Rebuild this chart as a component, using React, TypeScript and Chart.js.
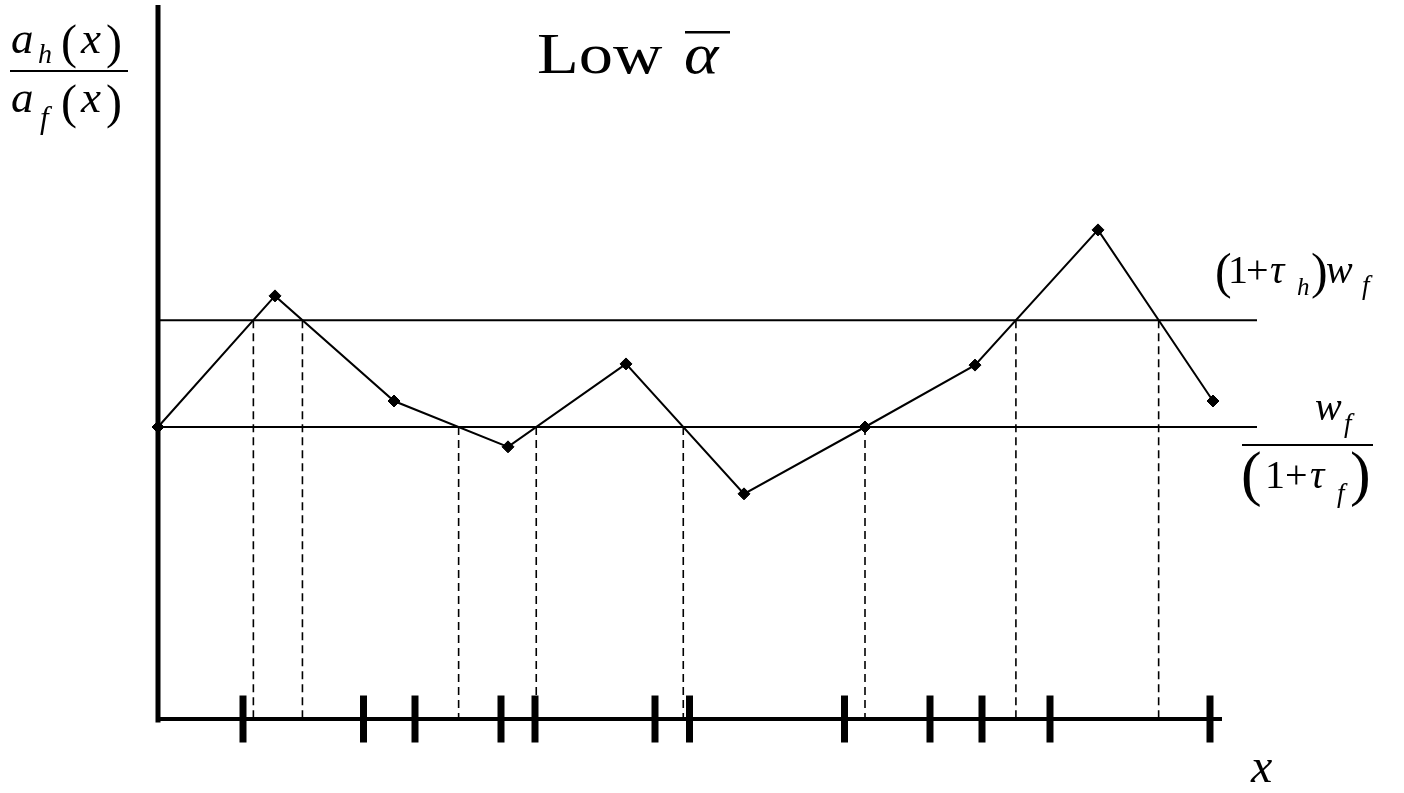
import React, { useEffect, useRef } from "react";
import { Chart, registerables } from "chart.js";

Chart.register(...registerables);

// ---- data (x in axis units from the origin, y in units of the lower threshold) ----
const seriesX = [0, 1.17, 2.36, 3.5, 4.68, 5.86, 7.07, 8.17, 9.4, 10.55];
const seriesY = [1.0, 1.449, 1.089, 0.932, 1.216, 0.771, 1.0, 1.212, 1.675, 1.089];
const upperThreshold = 1.366; // (1+tau_h) w_f
const lowerThreshold = 1.0; // w_f / (1+tau_f)
const thresholdEndX = 10.99;
const tickX = [0.85, 2.055, 2.57, 3.43, 3.77, 4.97, 5.315, 6.865, 7.72, 8.24, 8.92, 10.52];
const xAxisEnd = 10.64;
const yAxisTop = 2.445;

const SERIF = "'Liberation Serif', 'Times New Roman', serif";

// crossings of the polyline with a threshold
function crossings(th: number): number[] {
  const out: number[] = [];
  for (let i = 0; i < seriesX.length - 1; i++) {
    const y0 = seriesY[i];
    const y1 = seriesY[i + 1];
    if ((y0 < th) !== (y1 < th)) {
      const t = (th - y0) / (y1 - y0);
      out.push(seriesX[i] + t * (seriesX[i + 1] - seriesX[i]));
    }
  }
  return out;
}

type G = { t: string; x: number; y: number; s: number; i?: boolean; sx?: number };
const glyphs: G[] = [
  // y-axis label: a_h(x) / a_f(x)
  { t: "a", x: 11, y: 53, s: 45, i: true },
  { t: "h", x: 38, y: 63, s: 28, i: true },
  { t: "(", x: 61, y: 58, s: 48 },
  { t: "x", x: 81, y: 53, s: 45, i: true },
  { t: ")", x: 106, y: 58, s: 48 },
  { t: "a", x: 11, y: 112, s: 45, i: true },
  { t: "f", x: 40, y: 128, s: 31, i: true },
  { t: "(", x: 61, y: 118, s: 48 },
  { t: "x", x: 81, y: 112, s: 45, i: true },
  { t: ")", x: 106, y: 118, s: 48 },
  // title
  { t: "Low", x: 537, y: 73, s: 57, sx: 1.2 },
  { t: "\u03B1", x: 684, y: 73, s: 57, i: true, sx: 1.15 },
  // (1+tau_h) w_f
  { t: "(", x: 1215, y: 288, s: 50 },
  { t: "1", x: 1228, y: 283, s: 40 },
  { t: "+", x: 1246, y: 283, s: 40 },
  { t: "\u03C4", x: 1270, y: 283, s: 40, i: true },
  { t: "h", x: 1297, y: 295, s: 25, i: true },
  { t: ")", x: 1311, y: 288, s: 50 },
  { t: "w", x: 1326, y: 283, s: 40, i: true },
  { t: "f", x: 1362, y: 294, s: 27, i: true },
  // w_f / (1+tau_f)
  { t: "w", x: 1315, y: 420, s: 40, i: true },
  { t: "f", x: 1344, y: 432, s: 27, i: true },
  { t: "(", x: 1241, y: 494, s: 62 },
  { t: "1", x: 1265, y: 488, s: 40 },
  { t: "+", x: 1285, y: 488, s: 40 },
  { t: "\u03C4", x: 1310, y: 488, s: 40, i: true },
  { t: "f", x: 1337, y: 502, s: 27, i: true },
  { t: ")", x: 1350, y: 494, s: 62 },
  // x-axis label
  { t: "x", x: 1251, y: 782, s: 48, i: true },
];
const bars = [
  { x: 10, y: 70, w: 118, h: 2 },
  { x: 685, y: 31, w: 45, h: 2.5 },
  { x: 1242, y: 444, w: 131, h: 2 },
];

const textPlugin = {
  id: "mathText",
  afterDraw(chart: any) {
    const ctx = chart.ctx as CanvasRenderingContext2D;
    ctx.save();
    ctx.fillStyle = "#000";
    ctx.textAlign = "left";
    ctx.textBaseline = "alphabetic";
    for (const g of glyphs) {
      ctx.font = `${g.i ? "italic " : ""}${g.s}px ${SERIF}`;
      if (g.sx) {
        ctx.save();
        ctx.translate(g.x, g.y);
        ctx.scale(g.sx, 1);
        ctx.fillText(g.t, 0, 0);
        ctx.restore();
      } else {
        ctx.fillText(g.t, g.x, g.y);
      }
    }
    for (const b of bars) ctx.fillRect(b.x, b.y, b.w, b.h);
    ctx.restore();
  },
};

export default function App() {
  const ref = useRef<HTMLCanvasElement | null>(null);
  useEffect(() => {
    if (!ref.current) return;
    const black = "#000";
    const drops = [...crossings(upperThreshold).map((x) => ({ x, th: upperThreshold })), ...crossings(lowerThreshold).map((x) => ({ x, th: lowerThreshold }))];
    const datasets: any[] = [
      {
        data: seriesX.map((x, i) => ({ x, y: seriesY[i] })),
        showLine: true,
        borderColor: black,
        backgroundColor: black,
        borderWidth: 2,
        pointStyle: "rectRot",
        pointRadius: 6,
        pointBorderWidth: 1,
        tension: 0,
        clip: false,
      },
      {
        data: [{ x: 0, y: upperThreshold }, { x: thresholdEndX, y: upperThreshold }],
        showLine: true, borderColor: black, borderWidth: 2, pointRadius: 0, clip: false,
      },
      {
        data: [{ x: 0, y: lowerThreshold }, { x: thresholdEndX, y: lowerThreshold }],
        showLine: true, borderColor: black, borderWidth: 2, pointRadius: 0, clip: false,
      },
      ...drops.map((d) => ({
        data: [{ x: d.x, y: d.th }, { x: d.x, y: 0.005 }],
        showLine: true, borderColor: black, borderWidth: 1.6, borderDash: [8, 5], pointRadius: 0, clip: false,
      })),
      {
        data: [{ x: 0, y: -0.012 }, { x: 0, y: yAxisTop }],
        showLine: true, borderColor: black, borderWidth: 5, pointRadius: 0, clip: false,
      },
      {
        data: [{ x: 0, y: 0 }, { x: xAxisEnd, y: 0 }],
        showLine: true, borderColor: black, borderWidth: 4, pointRadius: 0, clip: false,
      },
      {
        data: tickX.map((x) => ({ x, y: 0 })),
        showLine: false,
        pointStyle: "line",
        rotation: 90,
        pointRadius: 23.5,
        borderColor: black,
        pointBorderWidth: 7,
        borderWidth: 7,
        clip: false,
      },
    ];
    const chart = new Chart(ref.current, {
      type: "scatter",
      data: { datasets },
      options: {
        animation: false,
        responsive: false,
        devicePixelRatio: 1,
        events: [],
        layout: { padding: 0, autoPadding: false },
        plugins: { legend: { display: false }, tooltip: { enabled: false }, title: { display: false } },
        scales: {
          x: { type: "linear", min: -1.58, max: 12.46, display: false },
          y: { type: "linear", min: -0.2534, max: 2.4623, display: false },
        },
      },
      plugins: [textPlugin],
    });
    return () => chart.destroy();
  }, []);
  return (
    <div style={{ position: "absolute", left: 0, top: 0, width: 1404, height: 793, background: "#fff" }}>
      <canvas ref={ref} width={1404} height={793} style={{ display: "block" }} />
    </div>
  );
}
